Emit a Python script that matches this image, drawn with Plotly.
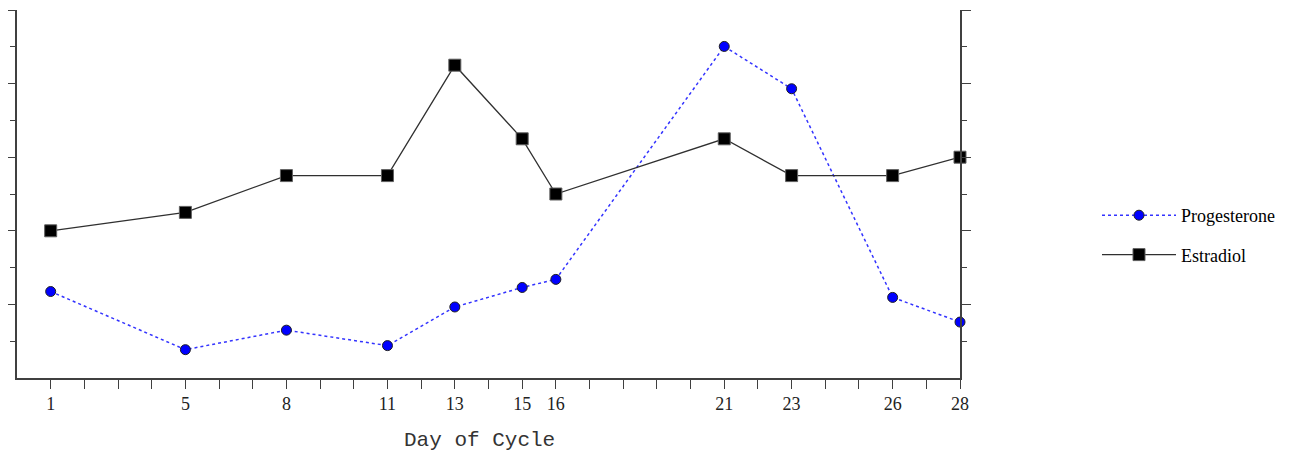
import plotly.graph_objects as go

days = [1, 5, 8, 11, 13, 15, 16, 21, 23, 26, 28]
progesterone = [2.35, 0.77, 1.30, 0.88, 1.93, 2.46, 2.68, 9.01, 7.86, 2.19, 1.52]
estradiol = [4.0, 4.5, 5.5, 5.5, 8.5, 6.5, 5.0, 6.5, 5.5, 5.5, 6.0]

tick_days = list(range(1, 29))
labeled_days = [1, 5, 8, 11, 13, 15, 16, 21, 23, 26, 28]
tick_text = [str(d) if d in labeled_days else "" for d in tick_days]

y_major = [2, 4, 6, 8, 10]
y_minor = [1, 3, 5, 7, 9]

W, H = 1283, 443  # page body has an 8px margin

fig = go.Figure()
fig.add_trace(go.Scatter(
    x=days, y=progesterone, name="Progesterone", mode="lines+markers",
    line=dict(color="#3333ff", width=1.5, dash="3px,3px"),
    marker=dict(symbol="circle", size=10, color="#0000ff",
                line=dict(color="#202020", width=1)),
    legendgroup="p", cliponaxis=False,
))
fig.add_trace(go.Scatter(
    x=days, y=estradiol, name="Estradiol", mode="lines+markers",
    line=dict(color="#303030", width=1.3),
    marker=dict(symbol="square", size=12, color="#000000",
                line=dict(color="#606060", width=1)),
    legendgroup="e", cliponaxis=False,
))

axis_color = "#404040"
fig.update_layout(
    width=W, height=H,
    margin=dict(l=9, r=W - 952, t=2, b=73, autoexpand=False),
    paper_bgcolor="white", plot_bgcolor="white",
    font=dict(family="Liberation Serif", size=17, color="#222222"),
    showlegend=True,
    legend=dict(
        xref="container", yref="container", x=1089 / W, y=1 - 189 / H,
        xanchor="left", yanchor="top",
        font=dict(family="Liberation Serif", size=18, color="#000000"),
        itemwidth=74, tracegroupgap=13, traceorder="grouped",
        bgcolor="rgba(0,0,0,0)",
    ),
    xaxis=dict(
        range=[0, 28], showgrid=False, zeroline=False, automargin=False,
        showline=True, linecolor=axis_color, linewidth=1.5,
        ticks="outside", ticklen=9, tickwidth=1.3, tickcolor=axis_color,
        tickvals=tick_days, ticktext=tick_text, ticklabelstandoff=0,
        tickfont=dict(family="Liberation Serif", size=18, color="#222222"),
    ),
    yaxis=dict(
        range=[0, 10], showgrid=False, zeroline=False, automargin=False,
        showline=True, linecolor=axis_color, linewidth=1.5, mirror="ticks",
        ticks="outside", ticklen=9, tickwidth=1.3, tickcolor=axis_color,
        tickvals=y_major, showticklabels=False,
        minor=dict(tickvals=y_minor, ticks="outside", ticklen=5,
                   tickwidth=1.3, tickcolor=axis_color),
    ),
    annotations=[dict(
        text="Day of Cycle", xref="paper", yref="paper",
        x=(479.5 - 16.7) / 943, y=-0.17, xanchor="center", yanchor="middle",
        showarrow=False,
        font=dict(family="Liberation Mono", size=21, color="#333333"),
    )],
)

fig.write_html("out.html")
